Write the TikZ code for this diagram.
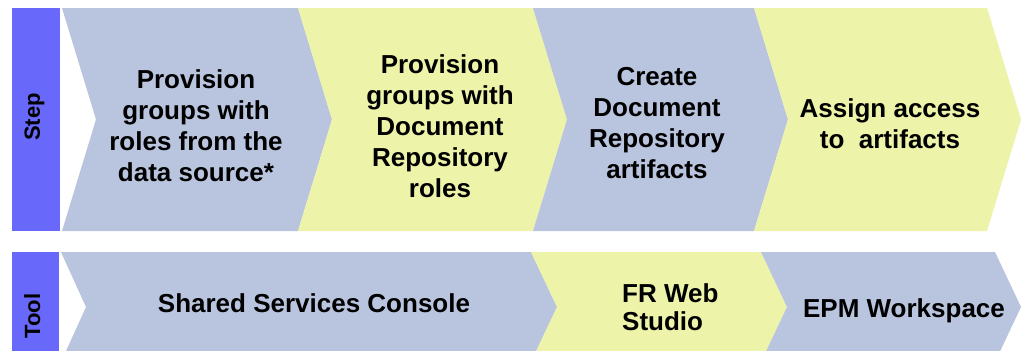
\documentclass[tikz,border=0pt]{standalone}
\usepackage{fontspec}
\setmainfont{Liberation Sans}
\definecolor{chblue}{RGB}{185,196,222}
\definecolor{chyel}{RGB}{237,243,168}
\definecolor{barblue}{RGB}{104,104,250}
\begin{document}
\begin{tikzpicture}[x=1pt,y=-1pt,
  blueshape/.style={fill=chblue},
  yelshape/.style={fill=chyel},
  barshape/.style={fill=barblue},
  steptext/.style={font=\bfseries\fontsize{26}{31}\selectfont, align=center, inner sep=0pt, text=black},
  tooltext/.style={font=\bfseries\fontsize{26}{28}\selectfont, inner sep=0pt, text=black},
  bartext/.style={font=\bfseries\fontsize{22}{24}\selectfont, rotate=90, inner sep=0pt, text=black}]
\useasboundingbox (0,0) rectangle (1021,351);
\fill[white] (0,0) rectangle (1021,351);
\begin{scope}
\clip (0,0) rectangle (1021,351);
% top row (Step)
\fill[barshape] (12,8) rectangle (60,231);
\fill[blueshape] (62,8) -- (298,8) -- (332,119.5) -- (298,231) -- (62,231) -- (96,119.5) -- cycle;
\fill[yelshape] (298,8) -- (533,8) -- (567,119.5) -- (533,231) -- (298,231) -- (332,119.5) -- cycle;
\fill[blueshape] (533,8) -- (754,8) -- (788,119.5) -- (754,231) -- (533,231) -- (567,119.5) -- cycle;
\fill[yelshape] (754,8) -- (987,8) -- (1021,119.5) -- (987,231) -- (754,231) -- (788,119.5) -- cycle;
% bottom row (Tool)
\fill[barshape] (12,252) rectangle (59,360);
\fill[blueshape] (61,252) -- (531,252) -- (557,307) -- (531,362) -- (61,362) -- (86,307) -- cycle;
\fill[yelshape] (531,252) -- (761,252) -- (787,307) -- (761,362) -- (531,362) -- (557,307) -- cycle;
\fill[blueshape] (761,252) -- (995,252) -- (1021,307) -- (995,362) -- (761,362) -- (787,307) -- cycle;
\end{scope}
% labels
\node[bartext] (steplbl) at (34.4,117) {Step};
\node[bartext] (toollbl) at (32.2,316) {Tool};
\node[steptext] (s1) at (196,125.5) {Provision\\groups with\\roles from the\\data source*};
\node[steptext] (s2) at (440,126) {Provision\\groups with\\Document\\Repository\\roles};
\node[steptext] (s3) at (657,123.5) {Create\\Document\\Repository\\artifacts};
\node[steptext] (s4) at (890,123.5) {Assign access\\to\ \ artifacts};
\node[tooltext, anchor=base] (t1) at (314,312) {Shared Services Console};
\node[tooltext, anchor=west, align=left] (t2) at (622,307.5) {FR Web\\Studio};
\node[tooltext, anchor=base] (t3) at (904,317) {EPM Workspace};
\end{tikzpicture}
\end{document}
